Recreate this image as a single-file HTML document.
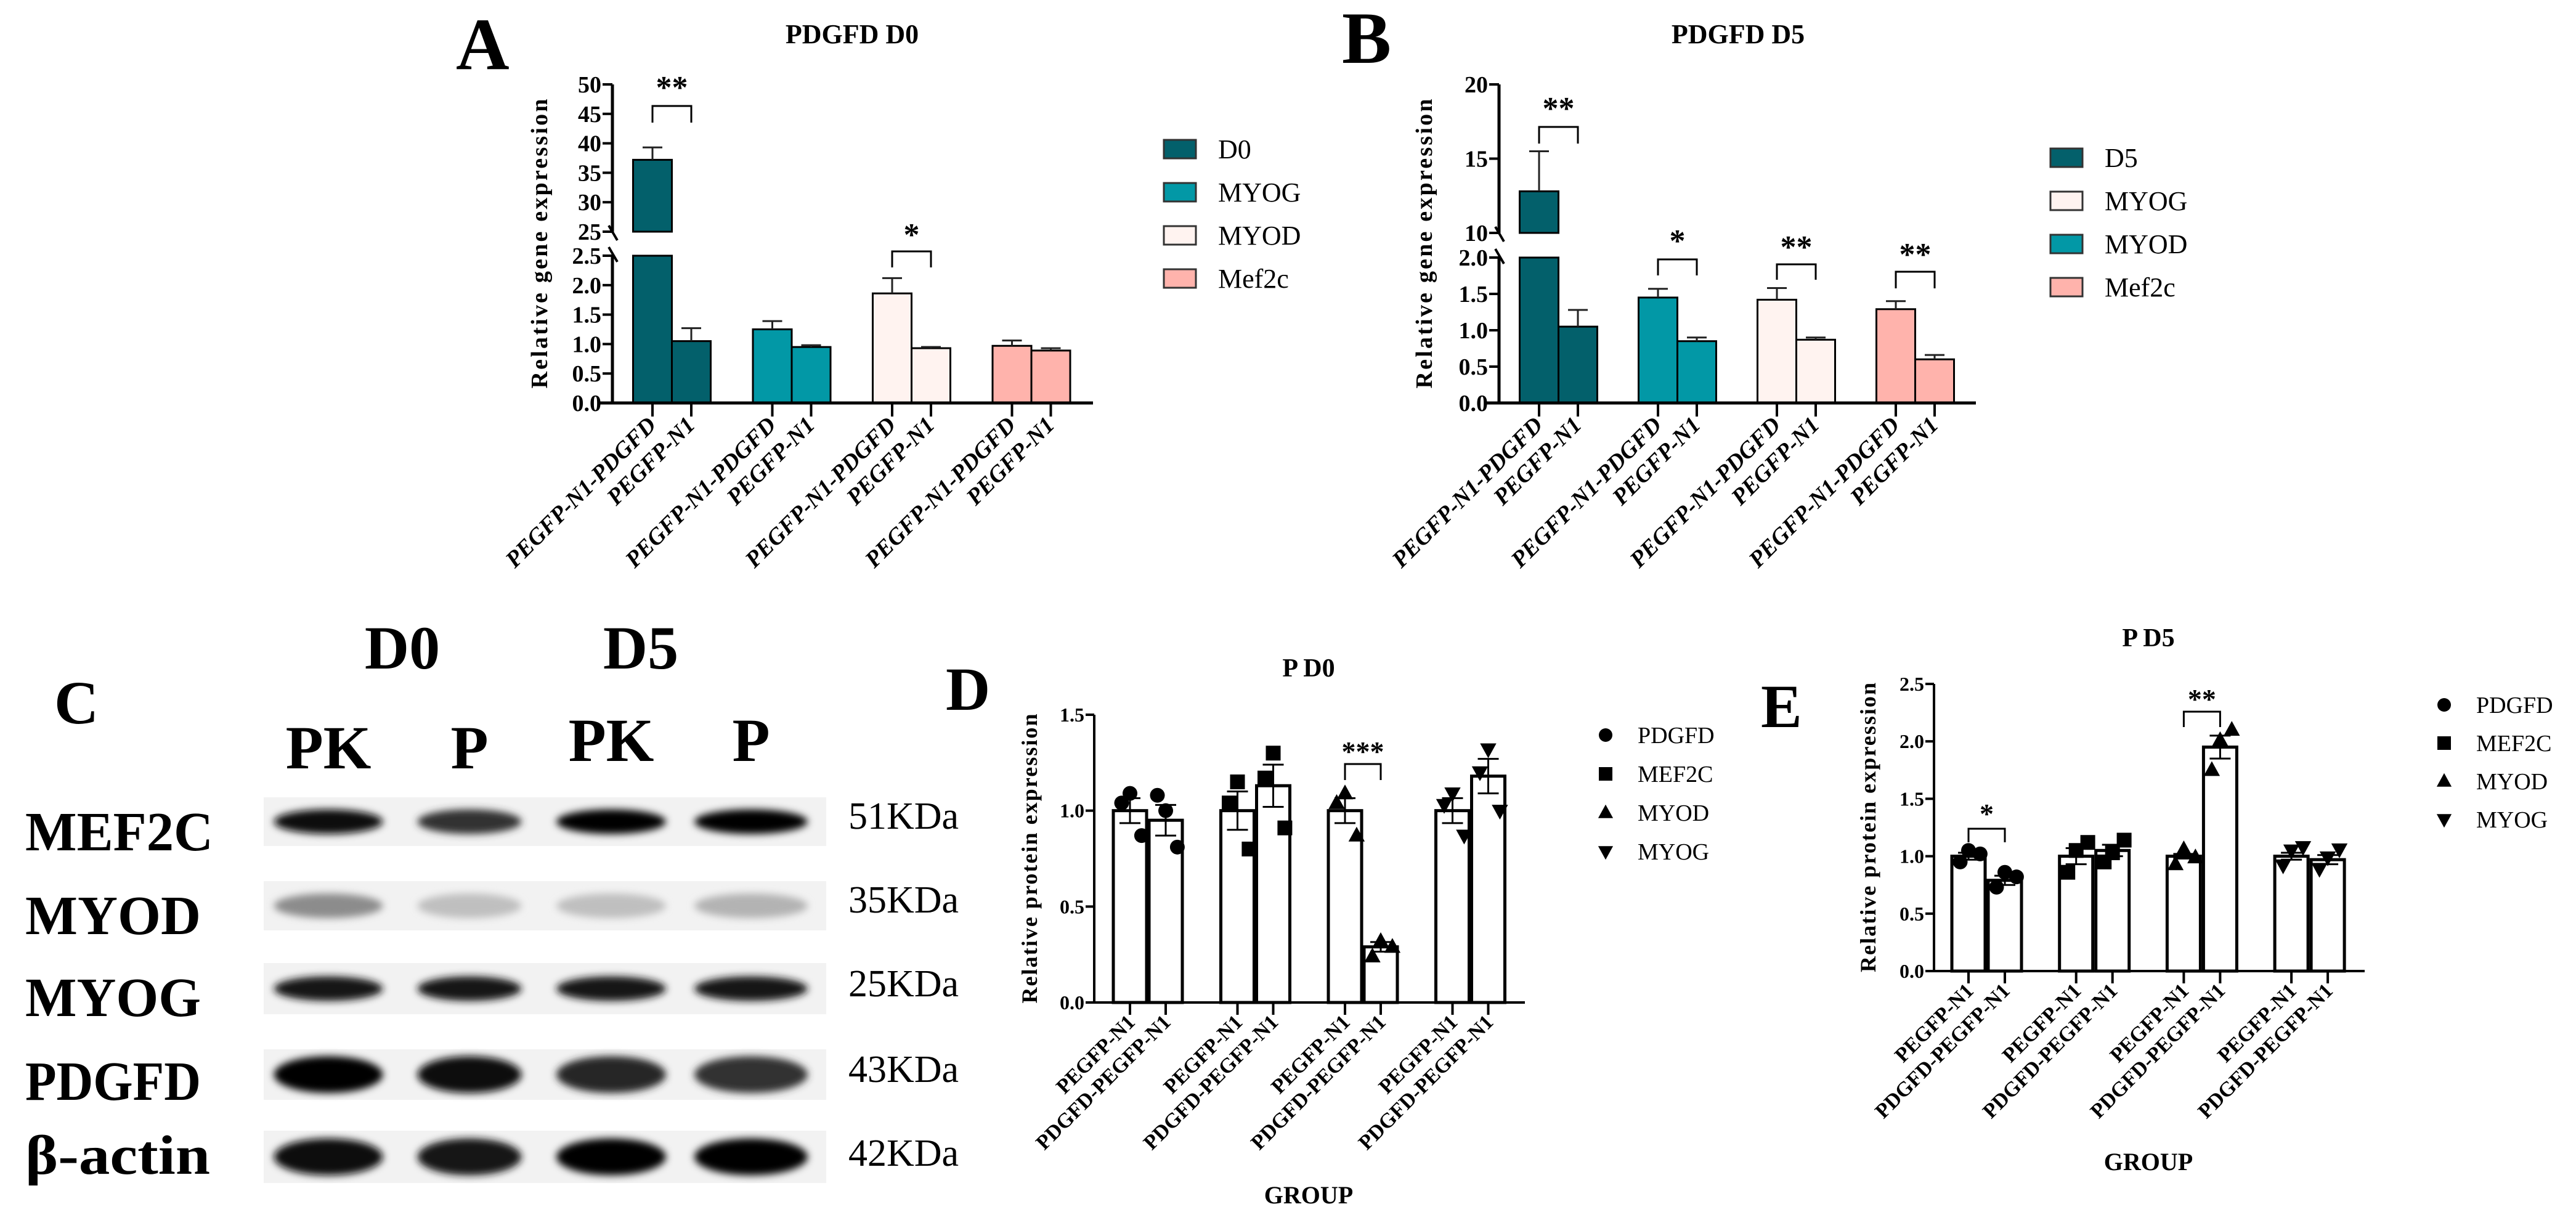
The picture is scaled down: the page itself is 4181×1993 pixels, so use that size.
<!DOCTYPE html>
<html><head><meta charset="utf-8"><style>
html,body{margin:0;padding:0;background:#fff;}
svg{display:block;}
text{font-family:"Liberation Serif",serif;}
</style></head>
<body>
<svg id="fig" width="4181" height="1993" viewBox="0 0 4181 1993" xmlns="http://www.w3.org/2000/svg">
<defs>
<filter id="blur" x="-20%" y="-50%" width="140%" height="200%"><feGaussianBlur stdDeviation="6"/></filter>
</defs>
<g id="root"></g>
</svg>
<script>
// ---------- Panel A data ----------
const aGroups = ["D0","MYOG","MYOD","Mef2c"];
const aColors = ["#03606b","#0298a6","#fff3f0","#ffb3ac"];
const aTreat = [37.2, 1.25, 1.86, 0.97];
const aTreatErr = [2.1, 0.14, 0.26, 0.09];
const aCtrl = [1.05, 0.95, 0.93, 0.89];
const aCtrlErr = [0.22, 0.03, 0.02, 0.04];
const aTicksLow = [0,0.5,1,1.5,2,2.5];
const aTicksHigh = [25,30,35,40,45,50];
const aTickLabLow = ["0.0","0.5","1.0","1.5","2.0","2.5"];
const aTickLabHigh = ["25","30","35","40","45","50"];
// ---------- Panel B data ----------
const bGroups = ["D5","MYOG","MYOD","Mef2c"];
const bLegendColors = ["#03606b","#fff3f0","#0298a6","#ffb3ac"];
const bBarColors = ["#03606b","#0298a6","#fff3f0","#ffb3ac"];
const bTreat = [12.8, 1.45, 1.42, 1.29];
const bTreatErr = [2.7, 0.12, 0.16, 0.11];
const bCtrl = [1.05, 0.85, 0.87, 0.60];
const bCtrlErr = [0.23, 0.05, 0.03, 0.06];
const bTicksLow = [0,0.5,1,1.5,2];
const bTicksHigh = [10,15,20];
const bTickLabLow = ["0.0","0.5","1.0","1.5","2.0"];
const bTickLabHigh = ["10","15","20"];
const abXLabels = ["PEGFP-N1-PDGFD","PEGFP-N1"];
// ---------- Panel D data ----------
const proteins = ["PDGFD","MEF2C","MYOD","MYOG"];
const dMeans = [1.0,0.95, 1.0,1.13, 1.0,0.29, 1.0,1.18];
const dSem = [0.065,0.08, 0.10,0.11, 0.065,0.025, 0.065,0.09];
const dPoints = [[1.04,1.09,0.87],[1.08,1.0,0.81],[1.04,1.15,0.80],[1.17,1.30,0.91],[1.04,1.09,0.87],[0.24,0.32,0.29],[1.03,1.09,0.87],[1.2,1.32,1.0]];
const dTicks = [0,0.5,1.0,1.5];
const dTickLab = ["0.0","0.5","1.0","1.5"];
// ---------- Panel E data ----------
const eMeans = [1.0,0.79, 1.0,1.05, 1.0,1.95, 1.0,0.97];
const eSem = [0.03,0.04, 0.07,0.05, 0.02,0.1, 0.03,0.04];
const ePoints = [[0.95,1.05,1.02],[0.73,0.86,0.82],[0.86,1.05,1.12],[0.95,1.03,1.14],[0.93,1.06,0.99],[1.75,2.01,2.10],[0.92,1.05,1.08],[0.89,0.99,1.06]];
const eTicks = [0,0.5,1.0,1.5,2.0,2.5];
const eTickLab = ["0.0","0.5","1.0","1.5","2.0","2.5"];
const deXLabels = ["PEGFP-N1","PDGFD-PEGFP-N1"];
// ---------- Western blot ----------
const blotRows = ["MEF2C","MYOD","MYOG","PDGFD","β-actin"];
const blotKDa = ["51KDa","35KDa","25KDa","43KDa","42KDa"];
const blotIntensity = [[0.95,0.8,1,1],[0.45,0.25,0.25,0.3],[0.9,0.9,0.9,0.9],[1,0.95,0.85,0.8],[0.95,0.9,1,1]];
const laneLabels = ["PK","P","PK","P"];

const NS="http://www.w3.org/2000/svg";
const root=document.getElementById('root');
function el(tag,attrs,parent,txt){const e=document.createElementNS(NS,tag);for(const k in attrs)e.setAttribute(k,attrs[k]);if(txt!==undefined)e.textContent=txt;(parent||root).appendChild(e);return e;}

// ============ Panel A / B (broken axis bar charts) ============
function brokenChart(o){
  const g=el('g',{},root);
  
  
  const y=v=> v<=o.lowMax ? o.y0-(v/o.lowMax)*(o.y0-o.yLowTop) : o.yHighBot-(v-o.hiMin)/(o.hiMax-o.hiMin)*(o.yHighBot-o.yTop);
  // panel letter and title
  let t=el('text',{x:o.letterX,y:o.letterY,'font-size':120,'font-weight':'bold'},g,o.letter);
  
  t=el('text',{x:o.titleX,y:o.titleY,'font-size':44,'font-weight':'bold','text-anchor':'middle'},g,o.title);
  
  // bars
  const bw=63;
  for(let i=0;i<o.treat.length;i++){
    const vals=[o.treat[i],o.ctrl[i]],errs=[o.treatErr[i],o.ctrlErr[i]];
    for(let j=0;j<2;j++){
      const cx=o.x0+o.firstC+i*o.gap+j*bw, v=vals[j];
      const x=cx-bw/2;
      if(v>o.lowMax){
        let r=el('rect',{x:x,y:o.yLowTop,width:bw,height:o.y0-o.yLowTop,fill:o.colors[i],stroke:'#000','stroke-width':3},g);
        
        r=el('rect',{x:x,y:y(v),width:bw,height:o.yHighBot-y(v),fill:o.colors[i],stroke:'#000','stroke-width':3},g);
        
      }else{
        const r=el('rect',{x:x,y:y(v),width:bw,height:o.y0-y(v),fill:o.colors[i],stroke:'#000','stroke-width':3},g);
        
      }
      const ye=y(v+errs[j]);
      const eb=el('path',{d:`M${cx},${y(v)}V${ye}M${cx-16},${ye}H${cx+16}`,stroke:'#222','stroke-width':3,fill:'none'},g);
      
      // x tick + label
      el('line',{x1:cx,y1:o.y0,x2:cx,y2:o.y0+22,stroke:'#000','stroke-width':4},g);
      const lx=cx+8,ly=o.y0+38;
      const xl=el('text',{x:lx,y:ly,'font-size':38,'font-weight':'bold','font-style':'italic','text-anchor':'end',transform:`rotate(-45 ${lx} ${ly})`},g,o.xLabels[j]);
      
    }
  }
  // axes
  const ax=el('path',{d:`M${o.x0},${o.yTop}V${o.yHighBot}M${o.x0},${o.yLowTop}V${o.y0}M${o.x0-20},${o.y0}H${o.xEnd}`,stroke:'#000','stroke-width':5,fill:'none'},g);
  
  el('path',{d:`M${o.x0-6},${o.yHighBot-10}L${o.x0+8},${o.yHighBot+14}M${o.x0-6},${o.yLowTop-14}L${o.x0+8},${o.yLowTop+10}`,stroke:'#000','stroke-width':4},g);
  const ticks=[[o.ticksLow,o.labLow],[o.ticksHigh,o.labHigh]];
  ticks.forEach(([tv,tl])=>tv.forEach((v,k)=>{
    const yy=y(v);
    el('line',{x1:o.x0-16,y1:yy,x2:o.x0,y2:yy,stroke:'#000','stroke-width':4},g);
    const tt=el('text',{x:o.x0-18,y:yy+13,'font-size':38,'font-weight':'bold','text-anchor':'end'},g,tl[k]);
    
  }));
  const yl=el('text',{x:o.ylabX,y:(o.yTop+o.y0)/2,'font-size':38,'font-weight':'bold','text-anchor':'middle',textLength:470,lengthAdjust:'spacing',transform:`rotate(-90 ${o.ylabX} ${(o.yTop+o.y0)/2})`},g,'Relative gene expression');
  
  // significance
  o.sig.forEach(s=>{
    const x1=o.x0+o.firstC+s.g*o.gap, x2=x1+bw;
    const br=el('path',{d:`M${x1},${s.legY}V${s.barY}H${x2}V${s.legY}`,stroke:'#000','stroke-width':3,fill:'none'},g);
    
    const st=el('text',{x:(x1+x2)/2,y:s.starY+22,'font-size':52,'font-weight':'bold','text-anchor':'middle','font-family':'Liberation Sans'},g,s.txt);
    
  });
  // legend
  o.groups.forEach((name,i)=>{
    const cy=o.legY0+i*o.legDy;
    const sw=el('rect',{x:o.legX,y:cy-15,width:52,height:30,fill:o.legColors[i],stroke:'#333','stroke-width':3},g);
    
    const lt=el('text',{x:o.legX+88,y:cy+15,'font-size':44},g,name);
    
  });
}
brokenChart({name:'panel-a-chart',letter:'A',letterX:740,letterY:112,title:'PDGFD  D0',titleX:1383,titleY:70,
  x0:994,xEnd:1774,y0:654,yLowTop:415,yHighBot:376,yTop:137,lowMax:2.5,hiMin:25,hiMax:50,firstC:65,gap:194.5,
  groups:aGroups,colors:aColors,legColors:aColors,treat:aTreat,treatErr:aTreatErr,ctrl:aCtrl,ctrlErr:aCtrlErr,
  ticksLow:aTicksLow,ticksHigh:aTicksHigh,labLow:aTickLabLow,labHigh:aTickLabHigh,xLabels:abXLabels,ylabX:888,
  sig:[{g:0,txt:'**',starY:137,barY:172,legY:199},{g:2,txt:'*',starY:376,barY:408,legY:434}],
  legX:1889,legY0:242,legDy:70});
brokenChart({name:'panel-b-chart',letter:'B',letterX:2178,letterY:102,title:'PDGFD D5',titleX:2821,titleY:70,
  x0:2433,xEnd:3207,y0:654,yLowTop:418,yHighBot:378,yTop:137,lowMax:2,hiMin:10,hiMax:20,firstC:65,gap:193,
  groups:bGroups,colors:bBarColors,legColors:bLegendColors,treat:bTreat,treatErr:bTreatErr,ctrl:bCtrl,ctrlErr:bCtrlErr,
  ticksLow:bTicksLow,ticksHigh:bTicksHigh,labLow:bTickLabLow,labHigh:bTickLabHigh,xLabels:abXLabels,ylabX:2324,
  sig:[{g:0,txt:'**',starY:171,barY:206,legY:233},{g:1,txt:'*',starY:386,barY:421,legY:447},{g:2,txt:'**',starY:396,barY:429,legY:454},{g:3,txt:'**',starY:408,barY:441,legY:468}],
  legX:3328,legY0:256,legDy:70});

// ============ Panel C (western blot) ============
(function(){
  const g=el('g',{},root);
  
  let t=el('text',{x:88,y:1174,'font-size':100,'font-weight':'bold'},g,'C');
  
  t=el('text',{x:653,y:1085,'font-size':100,'font-weight':'bold','text-anchor':'middle'},g,'D0');
  
  t=el('text',{x:1040,y:1085,'font-size':100,'font-weight':'bold','text-anchor':'middle'},g,'D5');
  
  const laneX=[533,762,992,1219];
  const laneW=[177,169,178,184];
  const laneLY=[1247,1247,1235,1235];
  laneLabels.forEach((l,i)=>{
    const lt=el('text',{x:laneX[i],y:laneLY[i],'font-size':100,'font-weight':'bold','text-anchor':'middle'},g,l);
    
  });
  const rowBase=[1380,1516,1649,1785,1905];
  const stripY=[1294,1430,1563,1703,1835];
  const stripH=[79,80,83,82,85];
  const kdaY=[1345,1481,1617,1756,1892];
  blotRows.forEach((r,i)=>{
    const rl=el('text',{x:41,y:rowBase[i],'font-size':90,'font-weight':'bold',textLength:r==='β-actin'?300:(r==='MEF2C'?305:285),lengthAdjust:'spacingAndGlyphs'},g,r);
    
    const s=el('rect',{x:428,y:stripY[i],width:913,height:stripH[i],fill:'#f2f2f2'},g);
    
    blotIntensity[i].forEach((v,k)=>{
      const c=Math.round(255*(1-v));
      const b=el('ellipse',{cx:laneX[k]+(k===1?0:0),cy:stripY[i]+stripH[i]/2,rx:laneW[k]/2,ry:(i===3||i===4)?30:20,fill:`rgb(${c},${c},${c})`,filter:'url(#blur)'},g);
      
    });
    const kt=el('text',{x:1377,y:kdaY[i],'font-size':62},g,blotKDa[i]);
    
  });
})();

// ============ Panels D / E (dot + bar charts) ============
function marker(g,shape,cx,cy,r){
  let m;
  if(shape===0) m=el('circle',{cx:cx,cy:cy,r:r,fill:'#000'},g);
  else if(shape===1) m=el('rect',{x:cx-r,y:cy-r,width:2*r,height:2*r,fill:'#000'},g);
  else if(shape===2) m=el('path',{d:`M${cx},${cy-r*1.2}L${cx+r*1.1},${cy+r*0.8}L${cx-r*1.1},${cy+r*0.8}Z`,fill:'#000'},g);
  else m=el('path',{d:`M${cx},${cy+r*1.2}L${cx+r*1.1},${cy-r*0.8}L${cx-r*1.1},${cy-r*0.8}Z`,fill:'#000'},g);
  return m;
}
function dotChart(o){
  const g=el('g',{},root);
  
  const y=v=>o.y0-v/o.max*(o.y0-o.yTop);
  let t=el('text',{x:o.letterX,y:o.letterY,'font-size':100,'font-weight':'bold'},g,o.letter);
  
  t=el('text',{x:o.titleX,y:o.titleY,'font-size':42,'font-weight':'bold','text-anchor':'middle'},g,o.title);
  
  const bw=o.bw, jit=[-0.25,0,0.35];
  for(let i=0;i<o.means.length;i++){
    const grp=Math.floor(i/2), j=i%2;
    const cx=o.x0+o.firstC+grp*o.gap+j*o.pair;
    const v=o.means[i];
    const r=el('rect',{x:cx-bw/2,y:y(v),width:bw,height:o.y0-y(v),fill:'#fff',stroke:'#000','stroke-width':5},g);
    
    o.points[i].forEach((p,k)=>{
      const m=marker(g,grp,cx+jit[k]*bw*(k===1?0:1)+(k===1?0:0),y(p),12);
      
    });
    const e=o.sem[i];
    const eb=el('path',{d:`M${cx},${y(v+e)}V${y(v-e)}M${cx-17},${y(v+e)}H${cx+17}M${cx-17},${y(v-e)}H${cx+17}`,stroke:'#000','stroke-width':3,fill:'none'},g);
    
    el('line',{x1:cx,y1:o.y0,x2:cx,y2:o.y0+20,stroke:'#000','stroke-width':4},g);
    const lx=cx+10,ly=o.y0+34;
    const xl=el('text',{x:lx,y:ly,'font-size':34,'font-weight':'bold','text-anchor':'end',transform:`rotate(-45 ${lx} ${ly})`},g,o.xLabels[j]);
    
  }
  const ax=el('path',{d:`M${o.x0},${o.yTop}V${o.y0}H${o.xEnd}`,stroke:'#000','stroke-width':4,fill:'none'},g);
  
  o.ticks.forEach((v,k)=>{
    el('line',{x1:o.x0-14,y1:y(v),x2:o.x0,y2:y(v),stroke:'#000','stroke-width':4},g);
    const tt=el('text',{x:o.x0-16,y:y(v)+11,'font-size':32,'font-weight':'bold','text-anchor':'end'},g,o.tickLab[k]);
    
  });
  const cyl=(o.yTop+o.y0)/2;
  const yl=el('text',{x:o.ylabX,y:cyl,'font-size':36,'font-weight':'bold','text-anchor':'middle',textLength:470,lengthAdjust:'spacing',transform:`rotate(-90 ${o.ylabX} ${cyl})`},g,'Relative protein expression');
  
  const xt=el('text',{x:o.titleX,y:o.groupY,'font-size':40,'font-weight':'bold','text-anchor':'middle'},g,'GROUP');
  
  o.sig.forEach(s=>{
    const x1=o.x0+o.firstC+s.g*o.gap, x2=x1+o.pair;
    const br=el('path',{d:`M${x1},${s.legY}V${s.barY}H${x2}V${s.legY}`,stroke:'#000','stroke-width':3,fill:'none'},g);
    
    const st=el('text',{x:(x1+x2)/2,y:s.starY+20,'font-size':46,'font-weight':'bold','text-anchor':'middle','font-family':'Liberation Sans'},g,s.txt);
    
  });
  proteins.forEach((p,i)=>{
    const cy=o.legY0+i*o.legDy;
    const m=marker(g,i,o.legX,cy,11);
    
    const lt=el('text',{x:o.legX+52,y:cy+13,'font-size':38},g,p);
    
  });
}
dotChart({name:'panel-d-chart',letter:'D',letterX:1535,letterY:1152,title:'P D0',titleX:2124,titleY:1098,
  x0:1776,xEnd:2475,y0:1627,yTop:1160,max:1.5,firstC:58,gap:174.5,pair:58,bw:54,
  means:dMeans,sem:dSem,points:dPoints,ticks:dTicks,tickLab:dTickLab,xLabels:deXLabels,ylabX:1683,groupY:1953,
  sig:[{g:2,txt:'***',starY:1215,barY:1240,legY:1266}],legX:2606,legY0:1193,legDy:63});
dotChart({name:'panel-e-chart',letter:'E',letterX:2858,letterY:1180,title:'P D5',titleX:3487,titleY:1049,
  x0:3139,xEnd:3838,y0:1576,yTop:1110,max:2.5,firstC:56,gap:174.7,pair:59,bw:54,
  means:eMeans,sem:eSem,points:ePoints,ticks:eTicks,tickLab:eTickLab,xLabels:deXLabels,ylabX:3044,groupY:1899,
  sig:[{g:0,txt:'*',starY:1316,barY:1345,legY:1367},{g:2,txt:'**',starY:1130,barY:1155,legY:1180}],legX:3967,legY0:1144,legDy:62});
</script>
</body></html>
